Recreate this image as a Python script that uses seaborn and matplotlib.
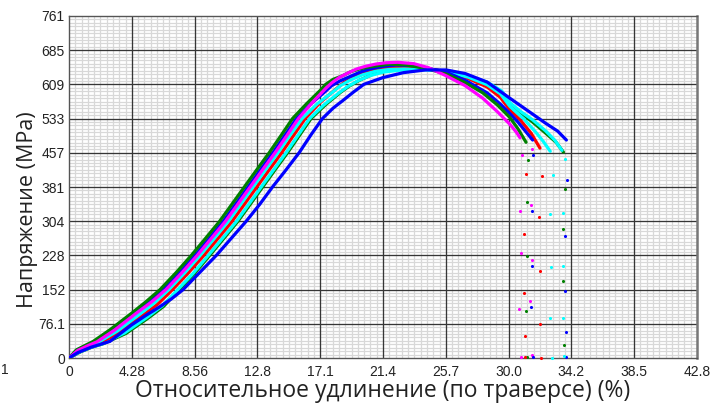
import numpy as np
import pandas as pd
import matplotlib
matplotlib.use("Agg")
import matplotlib.pyplot as plt
from matplotlib.ticker import AutoMinorLocator
import seaborn as sns

# strain (%) / stress (MPa)
green_a_x = [0, 0.5, 1.1, 1.65, 2.8, 4.28, 5.2, 6.2, 7.3, 8.33, 9.3, 10.26, 11.1, 11.96, 12.8, 13.65,
             14.45, 15.24, 16.2, 17.14, 17.5, 18.0, 18.64, 19.2, 19.77, 20.5, 21.4, 21.9,
             23, 24.5, 25.7, 27, 28.2, 29.2, 30.05, 30.6, 31.15]
green_a_y = [0, 18, 28, 37, 63, 100, 124, 152, 190, 228, 266, 304, 342, 381, 419, 457,
             495, 533, 566, 596, 609, 620, 628, 637, 643, 648, 652, 654,
             652, 643, 632, 613, 590, 563, 535, 510, 480]

blue_a_x = [0, 0.55, 1.2, 1.8, 3.0, 4.5, 5.45, 6.45, 7.55, 8.58, 9.55, 10.51, 11.35, 12.21, 13.05,
            13.9, 14.7, 15.5, 16.5, 17.5, 17.9, 18.5, 19.2, 19.9, 20.6, 21.4, 22.3, 23.7, 25.7,
            27, 28.5, 29.4, 30.05, 30.6, 31.1, 31.6]
blue_a_y = [0, 18, 28, 37, 63, 100, 124, 152, 190, 228, 266, 304, 342, 381, 419,
            457, 495, 533, 566, 594, 606, 617, 627, 637, 644, 649, 652, 650, 636,
            618, 590, 565, 544, 525, 505, 485]

magenta_x = [0, 0.6, 1.25, 1.9, 3.1, 4.6, 5.6, 6.6, 7.7, 8.73, 9.7, 10.66, 11.5, 12.36, 13.2, 14.05,
             14.85, 15.64, 16.6, 17.5, 17.9, 18.4, 19.0, 19.6, 20.2, 20.9, 21.6, 22.4, 23.5, 24.5,
             25.7, 27, 28.2, 29.2, 30.05, 30.5, 30.74]
magenta_y = [0, 17, 27, 36, 62, 100, 124, 152, 190, 228, 266, 304, 342, 381, 419, 457,
             495, 533, 569, 600, 612, 624, 634, 643, 649, 654, 657, 658, 655, 646,
             628, 606, 578, 548, 520, 502, 490]

cyan_a_x = [0, 0.65, 1.35, 2.0, 3.3, 4.8, 5.8, 6.8, 7.9, 8.93, 9.9, 10.86, 11.7, 12.56, 13.4, 14.25,
            15.05, 15.9, 16.9, 17.9, 18.5, 19.2, 20.0, 20.9, 21.8, 22.8, 24.2, 25.7, 27.2, 28.5,
            29.4, 30.05, 31, 31.8, 32.3, 32.8]
cyan_a_y = [0, 16, 26, 35, 60, 97, 122, 152, 190, 228, 266, 304, 342, 381, 419, 457,
            495, 533, 565, 590, 606, 619, 630, 638, 642, 643, 642, 637, 625, 608,
            588, 560, 532, 503, 483, 460]

red_x = [0, 0.7, 1.4, 2.1, 3.5, 5.0, 6.05, 7.05, 8.15, 9.18, 10.15, 11.11, 11.95, 12.81, 13.65, 14.5,
         15.3, 16.1, 17.1, 18.1, 18.7, 19.4, 20.2, 21.0, 21.8, 22.6, 24, 25.7, 27.2, 28.5, 29.4,
         30.05, 30.8, 31.5, 32.1]
red_y = [0, 15, 25, 33, 58, 94, 120, 152, 190, 228, 266, 304, 342, 381, 419, 457,
         495, 533, 568, 596, 612, 626, 636, 643, 646, 648, 646, 637, 622, 603, 580,
         552, 528, 500, 467]

cyan_b_x = [0, 0.75, 1.5, 2.3, 3.8, 5.3, 6.35, 7.35, 8.45, 9.48, 10.45, 11.41, 12.25, 13.11, 13.95,
            14.8, 15.6, 16.4, 17.4, 18.4, 19.0, 19.7, 20.5, 21.4, 22.4, 23.5, 24.6, 25.7, 27.1,
            28.5, 29.5, 30.05, 30.8, 31.6, 32.5, 33.1, 33.6]
cyan_b_y = [0, 14, 24, 32, 56, 90, 116, 150, 188, 228, 266, 304, 342, 381, 419,
            457, 495, 533, 564, 590, 604, 617, 628, 636, 640, 642, 641, 638, 628,
            614, 594, 568, 548, 530, 505, 485, 462]

green_b_x = [0, 0.8, 1.55, 2.35, 3.9, 5.4, 6.45, 7.45, 8.55, 9.58, 10.55, 11.51, 12.35, 13.21, 14.05,
             14.9, 15.7, 16.5, 17.5, 18.5, 19.1, 19.8, 20.6, 21.4, 22.3, 23.2, 24.4, 25.7, 27.1,
             28.5, 29.5, 30.05, 30.8, 31.6, 32.5, 33.2, 33.7]
green_b_y = [0, 14, 24, 32, 55, 89, 115, 150, 188, 228, 266, 304, 342, 381, 419,
             457, 495, 533, 564, 591, 605, 618, 630, 638, 642, 644, 643, 638, 627,
             611, 590, 565, 545, 525, 500, 480, 458]

blue_b_x = [0, 0.6, 1.5, 2.79, 4.28, 5.2, 6.18, 7.0, 7.77, 8.9, 10.03, 11.05, 12.07, 13.0, 13.88,
            14.8, 15.69, 16.5, 17.28, 18.0, 18.63, 19.4, 20.1, 21.4, 22.8, 24.3, 25.7, 27, 28.5,
            30.05, 31.5, 32.5, 33.3, 33.9]
blue_b_y = [0, 12, 24, 37, 74, 94, 114, 132, 152, 190, 228, 266, 304, 342, 381,
            419, 457, 497, 533, 556, 572, 592, 609, 624, 635, 641, 641, 633, 614,
            578, 545, 522, 505, 485]

# points recorded after rupture
magenta_dots_x = [31.53, 30.85, 31.46, 30.74, 30.78, 31.53, 31.42, 30.69, 31.53, 30.8]
magenta_dots_y = [466, 452, 340, 327, 234, 218, 127, 110, 7, 2]
green_dots_x = [31.3, 31.19, 31.24, 31.12, 31.2, 33.8, 33.65, 33.69, 33.76]
green_dots_y = [440, 348, 227, 105, 2, 375, 286, 172, 29]
blue_dots_x = [31.65, 31.53, 31.53, 31.46, 31.6, 33.92, 33.83, 33.83, 33.87, 33.85]
blue_dots_y = [452, 328, 205, 114, 3, 395, 272, 150, 59, 2]
red_dots_x = [31.15, 32.26, 32.05, 31.03, 32.1, 31.03, 32.1, 31.1, 32.2, 31.1]
red_dots_y = [409, 405, 314, 277, 194, 145, 75, 49, 0, 2]
cyan_dots_x = [32.97, 33.8, 32.78, 33.65, 32.83, 33.69, 32.78, 33.65, 32.9, 33.72]
cyan_dots_y = [407, 442, 320, 323, 203, 205, 88, 90, 1, 4]

x_ticks = [0, 4.28, 8.56, 12.84, 17.12, 21.4, 25.68, 29.96, 34.24, 38.52, 42.8]
x_labels = ["0", "4.28", "8.56", "12.8", "17.1", "21.4", "25.7", "30.0", "34.2", "38.5", "42.8"]
y_ticks = [0, 76.1, 152.2, 228.3, 304.4, 380.5, 456.6, 532.7, 608.8, 684.9, 761]
y_labels = ["0", "76.1", "152", "228", "304", "381", "457", "533", "609", "685", "761"]

curves = [
    ("green_b", green_b_x, green_b_y, "#008000"),
    ("cyan_b", cyan_b_x, cyan_b_y, "#00ffff"),
    ("red", red_x, red_y, "#ff0000"),
    ("cyan_a", cyan_a_x, cyan_a_y, "#00ffff"),
    ("blue_a", blue_a_x, blue_a_y, "#0000ff"),
    ("green_a", green_a_x, green_a_y, "#008000"),
    ("magenta", magenta_x, magenta_y, "#ff00ff"),
    ("blue_b", blue_b_x, blue_b_y, "#0000ff"),
]
dots = [
    (magenta_dots_x, magenta_dots_y, "#ff00ff"),
    (green_dots_x, green_dots_y, "#008000"),
    (blue_dots_x, blue_dots_y, "#0000ff"),
    (red_dots_x, red_dots_y, "#ff0000"),
    (cyan_dots_x, cyan_dots_y, "#00ffff"),
]

sns.set_style("white")
plt.rcParams["font.family"] = ["Liberation Sans", "DejaVu Sans"]

fig, ax = plt.subplots(figsize=(7.27, 4.05), dpi=100)
fig.subplots_adjust(left=0.0949, right=0.9587, top=0.9605, bottom=0.116)

df = pd.concat([pd.DataFrame({"strain": xs, "stress": ys, "specimen": name})
                for name, xs, ys, _ in curves], ignore_index=True)
palette = {name: c for name, _, _, c in curves}
sns.lineplot(data=df, x="strain", y="stress", hue="specimen", palette=palette,
             hue_order=[c[0] for c in curves], sort=False, estimator=None,
             linewidth=2.3, legend=False, ax=ax, zorder=3)

for xs, ys, c in dots:
    sns.scatterplot(x=xs, y=ys, color=c, s=5, linewidth=0, ax=ax, zorder=4, clip_on=False)

ax.set_xlim(0, 42.8)
ax.set_ylim(0, 761)
ax.set_xticks(x_ticks)
ax.set_xticklabels(x_labels)
ax.set_yticks(y_ticks)
ax.set_yticklabels(y_labels)
ax.xaxis.set_minor_locator(AutoMinorLocator(10))
ax.yaxis.set_minor_locator(AutoMinorLocator(10))
ax.tick_params(which="both", length=0, labelsize=10, colors="#222222")
ax.tick_params(axis="x", pad=5)
ax.tick_params(axis="y", pad=3)

# light minor grid, dark major lines drawn on top of it
ax.grid(which="minor", color="#d8d8d8", linewidth=0.9)
ax.grid(which="major", visible=False)
ax.set_axisbelow(True)
for t in x_ticks[1:-1]:
    ax.axvline(t, color="#363636", linewidth=0.95, zorder=1)
for t in y_ticks[1:-1]:
    ax.axhline(t, color="#363636", linewidth=0.95, zorder=1)

for side in ["left", "bottom", "top"]:
    ax.spines[side].set_color("#555555")
    ax.spines[side].set_linewidth(1.0)
ax.spines["right"].set_color("#777777")
ax.spines["right"].set_linewidth(1.8)

ax.set_xlabel("Относительное удлинение (по траверсе) (%)", fontsize=16.5, family="Open Sans",
              color="#222222", labelpad=0)
ax.set_ylabel("Напряжение (MPa)", fontsize=15.5, family="Open Sans", color="#222222")
ax.yaxis.set_label_coords(-0.049, 0.433)

fig.text(0.002, 1 - 370 / 405, "1", fontsize=10, va="center", ha="left", color="#222222")

fig.savefig("out.png", dpi=100)
